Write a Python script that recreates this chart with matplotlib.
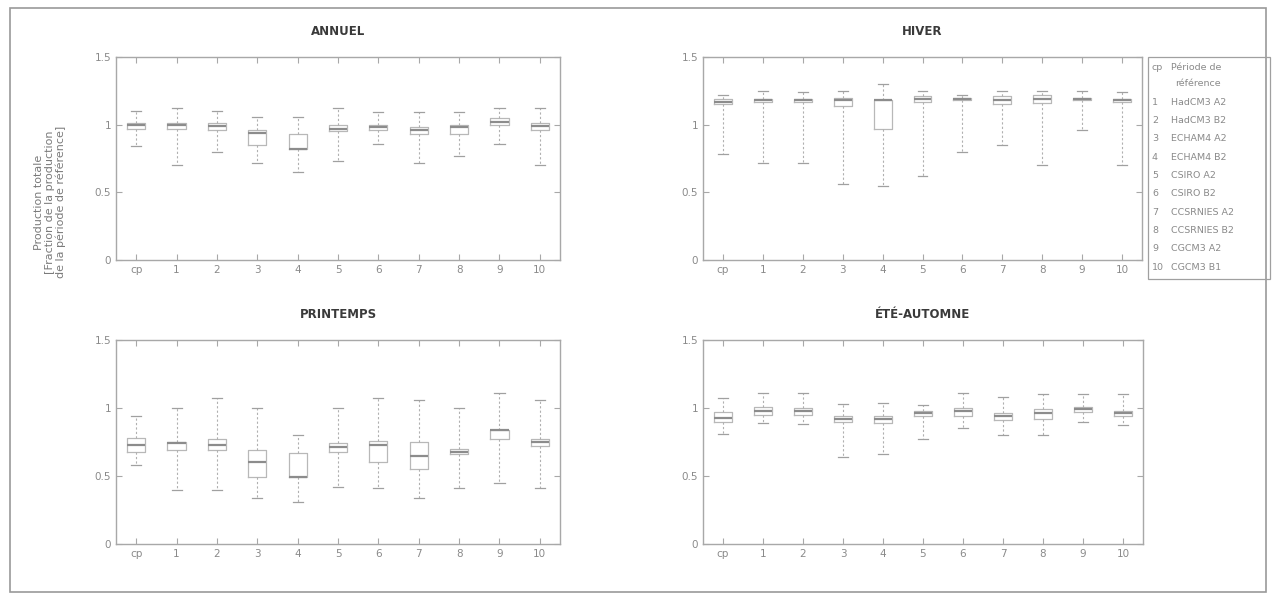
import matplotlib
matplotlib.use("Agg")
import matplotlib.pyplot as plt
from matplotlib.patches import Rectangle

categories = ["cp", "1", "2", "3", "4", "5", "6", "7", "8", "9", "10"]
legend_names = ["Période de\nréférence", "HadCM3 A2", "HadCM3 B2", "ECHAM4 A2", "ECHAM4 B2",
                "CSIRO A2", "CSIRO B2", "CCSRNIES A2", "CCSRNIES B2", "CGCM3 A2", "CGCM3 B1"]

# each: (whislo, q1, median, q3, whishi)
annuel_lo  = [0.84, 0.70, 0.80, 0.72, 0.65, 0.73, 0.86, 0.72, 0.77, 0.86, 0.70]
annuel_q1  = [0.97, 0.97, 0.96, 0.85, 0.82, 0.95, 0.96, 0.93, 0.93, 1.00, 0.96]
annuel_med = [1.00, 1.00, 0.99, 0.94, 0.82, 0.97, 0.98, 0.96, 0.98, 1.02, 0.99]
annuel_q3  = [1.01, 1.01, 1.01, 0.96, 0.93, 1.00, 1.00, 0.98, 1.00, 1.05, 1.01]
annuel_hi  = [1.10, 1.12, 1.10, 1.06, 1.06, 1.12, 1.09, 1.09, 1.09, 1.12, 1.12]

hiver_lo  = [0.78, 0.72, 0.72, 0.56, 0.55, 0.62, 0.80, 0.85, 0.70, 0.96, 0.70]
hiver_q1  = [1.15, 1.17, 1.17, 1.14, 0.97, 1.17, 1.18, 1.15, 1.16, 1.18, 1.17]
hiver_med = [1.17, 1.18, 1.18, 1.18, 1.18, 1.19, 1.19, 1.18, 1.19, 1.19, 1.18]
hiver_q3  = [1.19, 1.19, 1.19, 1.20, 1.18, 1.21, 1.20, 1.21, 1.22, 1.20, 1.19]
hiver_hi  = [1.22, 1.25, 1.24, 1.25, 1.30, 1.25, 1.22, 1.25, 1.25, 1.25, 1.24]

print_lo  = [0.58, 0.40, 0.40, 0.34, 0.31, 0.42, 0.41, 0.34, 0.41, 0.45, 0.41]
print_q1  = [0.68, 0.69, 0.69, 0.49, 0.49, 0.68, 0.60, 0.55, 0.66, 0.77, 0.72]
print_med = [0.73, 0.74, 0.73, 0.60, 0.49, 0.71, 0.73, 0.65, 0.68, 0.84, 0.75]
print_q3  = [0.78, 0.75, 0.77, 0.69, 0.67, 0.74, 0.76, 0.75, 0.70, 0.84, 0.77]
print_hi  = [0.94, 1.00, 1.07, 1.00, 0.80, 1.00, 1.07, 1.06, 1.00, 1.11, 1.06]

ete_lo  = [0.81, 0.89, 0.88, 0.64, 0.66, 0.77, 0.85, 0.80, 0.80, 0.90, 0.875]
ete_q1  = [0.90, 0.95, 0.95, 0.90, 0.89, 0.94, 0.94, 0.91, 0.92, 0.97, 0.94]
ete_med = [0.93, 0.98, 0.98, 0.92, 0.92, 0.96, 0.98, 0.94, 0.96, 0.99, 0.96]
ete_q3  = [0.97, 1.01, 1.00, 0.94, 0.94, 0.98, 1.00, 0.96, 0.99, 1.01, 0.98]
ete_hi  = [1.07, 1.11, 1.11, 1.03, 1.04, 1.02, 1.11, 1.08, 1.10, 1.10, 1.10]

panels = [
    ("ANNUEL", annuel_lo, annuel_q1, annuel_med, annuel_q3, annuel_hi),
    ("HIVER", hiver_lo, hiver_q1, hiver_med, hiver_q3, hiver_hi),
    ("PRINTEMPS", print_lo, print_q1, print_med, print_q3, print_hi),
    ("ÉTÉ-AUTOMNE", ete_lo, ete_q1, ete_med, ete_q3, ete_hi),
]

W, H = 1274, 607
fig = plt.figure(figsize=(W / 100, H / 100), dpi=100)
fig.patch.set_facecolor("white")

# outer frame
fig.add_artist(Rectangle((10 / W, 1 - 592 / H), 1256 / W, 584 / H, transform=fig.transFigure,
                         fill=False, edgecolor="#9a9a9a", linewidth=1.2))

# axes boxes in pixels: left, top, right, bottom
boxes = [(116, 57, 560, 260), (703, 57, 1142, 260), (116, 340, 560, 544), (703, 340, 1143, 544)]

gray = "#a8a8a8"
txt = "#8a8a8a"
for (title, lo, q1, med, q3, hi), (l, t, r, b) in zip(panels, boxes):
    ax = fig.add_axes([l / W, 1 - b / H, (r - l) / W, (b - t) / H])
    stats = []
    for i in range(len(categories)):
        stats.append(dict(whislo=lo[i], q1=q1[i], med=med[i], q3=q3[i], whishi=hi[i], fliers=[]))
    ax.bxp(stats, positions=range(1, len(categories) + 1), widths=0.45, showfliers=False,
           boxprops=dict(color="#b8b8b8", linewidth=0.9),
           medianprops=dict(color="#8c8c8c", linewidth=1.6),
           whiskerprops=dict(color="#b0b0b0", linewidth=0.8, linestyle=(0, (2, 2))),
           capprops=dict(color="#a0a0a0", linewidth=0.9), capwidths=0.25)
    ax.set_xlim(0.5, len(categories) + 0.5)
    ax.set_ylim(0, 1.5)
    ax.set_yticks([0, 0.5, 1, 1.5])
    ax.set_yticklabels(["0", "0.5", "1", "1.5"])
    ax.set_xticks(range(1, len(categories) + 1))
    ax.set_xticklabels(categories)
    ax.tick_params(direction="in", length=4, colors=gray, labelcolor=txt, labelsize=7.5,
                   top=True, right=True, width=0.8)
    for s in ax.spines.values():
        s.set_color(gray)
        s.set_linewidth(1.0)
    ax.set_title(title, fontsize=8.5, fontweight="bold", color="#3a3a3a", pad=16)

fig.text(50 / W, 1 - 202 / H,
         "Production totale\n[Fraction de la production\nde la période de référence]",
         rotation=90, ha="center", va="center", fontsize=8, color="#7a7a7a", linespacing=1.15)

# legend box
lx0, ly0, lx1, ly1 = 1148, 57, 1270, 279
fig.add_artist(Rectangle((lx0 / W, 1 - ly1 / H), (lx1 - lx0) / W, (ly1 - ly0) / H,
                         transform=fig.transFigure, fill=False, edgecolor="#a0a0a0", linewidth=0.9))
y = 67
for cat, name in zip(categories, legend_names):
    fig.text((lx0 + 4) / W, 1 - y / H, cat, fontsize=6.8, color=txt, va="center", ha="left")
    lines = name.split("\n")
    for k, ln in enumerate(lines):
        xoff = 23 if k == 0 else 27
        fig.text((lx0 + xoff) / W, 1 - (y + k * 17) / H, ln, fontsize=6.8, color=txt,
                 va="center", ha="left")
    y += 17 * (len(lines) - 1) + 18.3

fig.savefig("out.png", dpi=100)
